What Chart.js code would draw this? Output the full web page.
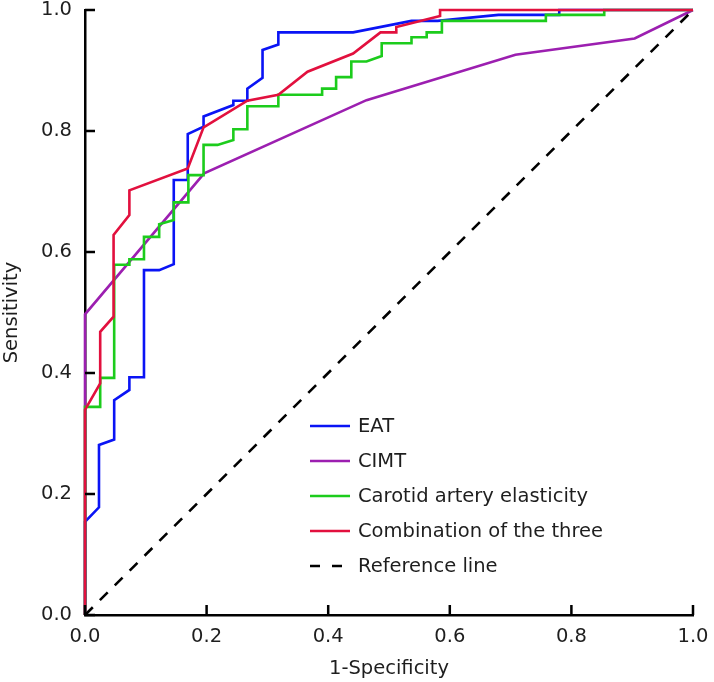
<!DOCTYPE html>
<html>
<head>
<meta charset="utf-8">
<script src="https://cdn.jsdelivr.net/npm/chart.js@4/dist/chart.umd.min.js"></script>
<style>
  html, body { margin: 0; padding: 0; background: #fff; }
  #wrap { width: 714px; height: 682px; position: relative; }
</style>
</head>
<body>
<div id="wrap"><canvas id="roc"></canvas></div>
<script>
// ROC curves (1-Specificity vs Sensitivity)
const eatX = [0, 0, 0.023, 0.023, 0.048, 0.048, 0.073, 0.073, 0.097, 0.097, 0.122, 0.146, 0.146, 0.169, 0.169, 0.195, 0.195, 0.244, 0.244, 0.267, 0.267, 0.292, 0.292, 0.318, 0.318, 0.441, 0.537, 0.58, 0.68, 0.78, 0.78, 1];
const eatY = [0, 0.154, 0.178, 0.281, 0.290, 0.355, 0.372, 0.393, 0.393, 0.570, 0.570, 0.580, 0.719, 0.719, 0.795, 0.807, 0.824, 0.843, 0.850, 0.850, 0.870, 0.888, 0.934, 0.943, 0.963, 0.963, 0.982, 0.982, 0.992, 0.992, 1, 1];

const cimtX = [0, 0, 0.196, 0.463, 0.708, 0.904, 1];
const cimtY = [0, 0.497, 0.730, 0.851, 0.926, 0.953, 1];

const carotidX = [0, 0, 0.025, 0.025, 0.048, 0.048, 0.073, 0.073, 0.097, 0.097, 0.122, 0.122, 0.146, 0.146, 0.170, 0.170, 0.195, 0.195, 0.218, 0.244, 0.244, 0.267, 0.267, 0.318, 0.318, 0.390, 0.390, 0.413, 0.413, 0.438, 0.438, 0.463, 0.488, 0.488, 0.537, 0.537, 0.562, 0.562, 0.587, 0.587, 0.758, 0.758, 0.854, 0.854, 1];
const carotidY = [0, 0.344, 0.344, 0.392, 0.392, 0.579, 0.579, 0.588, 0.588, 0.625, 0.625, 0.646, 0.653, 0.682, 0.682, 0.727, 0.727, 0.777, 0.777, 0.785, 0.803, 0.803, 0.841, 0.841, 0.860, 0.860, 0.870, 0.870, 0.889, 0.889, 0.915, 0.915, 0.924, 0.945, 0.945, 0.955, 0.955, 0.963, 0.963, 0.982, 0.982, 0.992, 0.992, 1, 1];

const comboX = [0, 0, 0.025, 0.025, 0.047, 0.047, 0.073, 0.073, 0.169, 0.195, 0.267, 0.318, 0.366, 0.441, 0.486, 0.512, 0.512, 0.584, 0.584, 1];
const comboY = [0, 0.339, 0.383, 0.468, 0.493, 0.628, 0.661, 0.702, 0.738, 0.806, 0.850, 0.860, 0.898, 0.928, 0.963, 0.963, 0.972, 0.990, 1, 1];

const refX = [0, 1];
const refY = [0, 1];

const seriesLabels = ["EAT", "CIMT", "Carotid artery elasticity", "Combination of the three", "Reference line"];
const tickValues = [0, 0.2, 0.4, 0.6, 0.8, 1.0];

const FONT = "'DejaVu Sans', Verdana, sans-serif";
const FSIZE = 19.5;
const TEXT = "#1e1e1e";

function pts(xs, ys) {
  return xs.map((x, i) => ({ x, y: ys[i] }));
}

const colors = ["#0a14f5", "#9c1fb0", "#1ccc1c", "#e2103e", "#000000"];
const dashes = [[], [], [], [], [11, 10]];
const allPts = [pts(eatX, eatY), pts(cimtX, cimtY), pts(carotidX, carotidY), pts(comboX, comboY), pts(refX, refY)];

const datasets = allPts.map((d, i) => ({
  label: seriesLabels[i],
  data: d,
  showLine: true,
  borderColor: colors[i],
  backgroundColor: colors[i],
  borderWidth: 2.6,
  borderDash: dashes[i],
  pointRadius: 0,
  tension: 0,
  clip: false,
  order: 5 - i,
}));

// ticks pointing into the plot area
const innerTicks = {
  id: "innerTicks",
  afterDraw(chart) {
    const { ctx, scales: { x, y }, chartArea } = chart;
    ctx.save();
    ctx.strokeStyle = "#000";
    ctx.lineWidth = 2.5;
    ctx.beginPath();
    tickValues.forEach((v) => {
      const px = x.getPixelForValue(v);
      ctx.moveTo(px, chartArea.bottom);
      ctx.lineTo(px, chartArea.bottom - 10);
      const py = y.getPixelForValue(v);
      ctx.moveTo(chartArea.left, py);
      ctx.lineTo(chartArea.left + 10, py);
    });
    ctx.stroke();
    ctx.restore();
  },
};

// legend in the lower right of the plot
const lineLegend = {
  id: "lineLegend",
  afterDraw(chart) {
    const { ctx, chartArea } = chart;
    const x0 = chartArea.left + 225;
    const y0 = chartArea.top + 416;
    ctx.save();
    ctx.font = FSIZE + "px " + FONT;
    ctx.textBaseline = "middle";
    ctx.fillStyle = TEXT;
    seriesLabels.forEach((lab, i) => {
      const yy = y0 + i * 35;
      ctx.beginPath();
      ctx.strokeStyle = colors[i];
      ctx.lineWidth = 2.6;
      ctx.setLineDash(i === 4 ? [10, 12] : []);
      ctx.moveTo(x0, yy);
      ctx.lineTo(x0 + 40, yy);
      ctx.stroke();
      ctx.setLineDash([]);
      ctx.fillText(lab, x0 + 48, yy + 1);
    });
    ctx.restore();
  },
};

new Chart(document.getElementById("roc"), {
  type: "scatter",
  data: { datasets },
  options: {
    responsive: true,
    maintainAspectRatio: false,
    animation: false,
    layout: { padding: { top: 10, right: 21, left: 0, bottom: 0 } },
    plugins: { legend: { display: false }, tooltip: { enabled: false } },
    scales: {
      x: {
        type: "linear",
        min: 0,
        max: 1,
        afterBuildTicks: (s) => { s.ticks = tickValues.map((v) => ({ value: v })); },
        afterFit: (s) => { s.height = 67; s.paddingLeft = 0; s.paddingRight = 0; },
        grid: { display: false, drawTicks: false },
        border: { display: true, color: "#000", width: 2.5 },
        ticks: {
          padding: 10,
          color: TEXT,
          font: { family: FONT, size: FSIZE },
          callback: (v) => v.toFixed(1),
          maxRotation: 0,
        },
        title: {
          display: true,
          text: "1-Specificity",
          color: TEXT,
          font: { family: FONT, size: FSIZE },
          padding: { top: 0, bottom: 1 },
        },
      },
      y: {
        type: "linear",
        min: 0,
        max: 1,
        afterBuildTicks: (s) => { s.ticks = tickValues.map((v) => ({ value: v })); },
        afterFit: (s) => { s.width = 85; s.paddingTop = 0; s.paddingBottom = 0; },
        grid: { display: false, drawTicks: false },
        border: { display: true, color: "#000", width: 2.5 },
        ticks: {
          padding: 13,
          color: TEXT,
          font: { family: FONT, size: FSIZE },
          callback: (v) => v.toFixed(1),
        },
        title: {
          display: true,
          text: "Sensitivity",
          color: TEXT,
          font: { family: FONT, size: FSIZE },
          padding: { top: 0, bottom: 0 },
        },
      },
    },
  },
  plugins: [innerTicks, lineLegend],
});
</script>
</body>
</html>
